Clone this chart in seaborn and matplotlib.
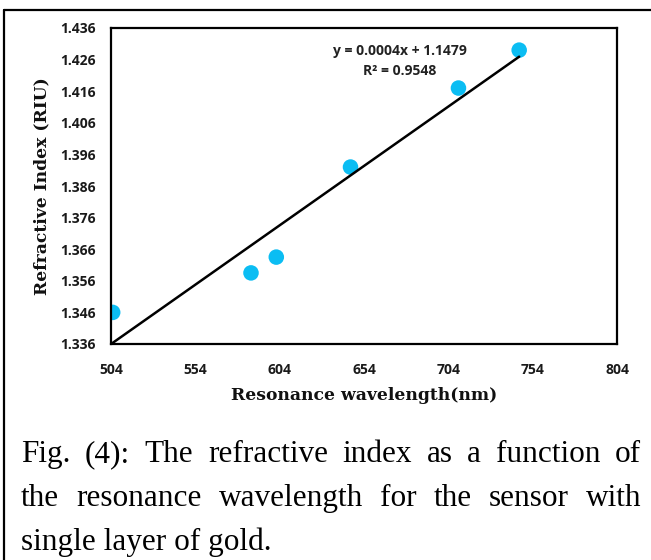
import numpy as np
import pandas as pd
import matplotlib
matplotlib.use("Agg")
import matplotlib.pyplot as plt
import seaborn as sns
from matplotlib.lines import Line2D

# ---- data ----
wavelength = [505, 587, 602, 646, 710, 746]
ref_index = [1.346, 1.3585, 1.3635, 1.392, 1.417, 1.429]
x_ticks = [504, 554, 604, 654, 704, 754, 804]
y_ticks = [1.336, 1.346, 1.356, 1.366, 1.376, 1.386, 1.396, 1.406, 1.416, 1.426, 1.436]
equation = "y = 0.0004x + 1.1479"
r2_text = "R² = 0.9548"
x_label = "Resonance wavelength(nm)"
y_label = "Refractive Index (RIU)"
caption_lines = [
    "Fig. (4):  The refractive index as a function of",
    "the resonance wavelength for the sensor with",
    "single layer of gold.",
]

df = pd.DataFrame({"wl": wavelength, "n": ref_index})

sns.set_theme(style="white")
plt.rcParams["font.family"] = ["DejaVu Sans"]

W, H = 651, 560
fig = plt.figure(figsize=(W / 100, H / 100), dpi=100)
ax_l, ax_r, ax_t, ax_b = 111, 617, 28, 344
ax = fig.add_axes([ax_l / W, 1 - ax_b / H, (ax_r - ax_l) / W, (ax_b - ax_t) / H])

sns.regplot(data=df, x="wl", y="n", ax=ax, ci=None, truncate=True,
            scatter_kws=dict(s=125, color="#0BBDF3", alpha=1, edgecolor="none", zorder=2),
            line_kws=dict(color="black", lw=1.8, zorder=3))

ax.set_xlim(504, 804)
ax.set_ylim(1.336, 1.436)
ax.set_xticks(x_ticks)
ax.set_yticks(y_ticks)
tick_kw = dict(fontfamily="Open Sans", fontweight="bold", fontsize=10, color="#1a1a1a")
ax.set_xticklabels([str(v) for v in x_ticks], **tick_kw)
ax.set_yticklabels([f"{v:.3f}" for v in y_ticks], **tick_kw)
ax.tick_params(axis="y", length=0, pad=11)
ax.tick_params(axis="x", length=0, pad=14)
for s in ax.spines.values():
    s.set_color("black")
    s.set_linewidth(1.6)

lab_kw = dict(fontfamily="DejaVu Serif", fontweight="bold", fontsize=12.3, color="#111111")
ax.set_xlabel(x_label, labelpad=7, **lab_kw)
ax.set_ylabel(y_label, labelpad=7, **lab_kw)

eq_kw = dict(transform=ax.transAxes, ha="center", va="center",
             fontfamily="Open Sans", fontweight="bold", fontsize=10, color="#222222")
ax.text(0.571, 0.927, equation, **eq_kw)
ax.text(0.571, 0.864, r2_text, **eq_kw)

# outer frame lines
fig.add_artist(Line2D([4 / W, 4 / W], [0, 1 - 10 / H], transform=fig.transFigure, color="black", lw=1.6))
fig.add_artist(Line2D([4 / W, 1], [1 - 10 / H, 1 - 10 / H], transform=fig.transFigure, color="black", lw=1.6))

# caption (justified)
fig.canvas.draw()
renderer = fig.canvas.get_renderer()
left_px, right_px = 21, 641
baselines = [462, 506, 550]
cap_kw = dict(fontfamily="Liberation Serif", fontsize=22.5, color="black", va="baseline", ha="left")
for i, line in enumerate(caption_lines):
    y = 1 - baselines[i] / H
    if i == len(caption_lines) - 1:
        fig.text(left_px / W, y, line, **cap_kw)
        continue
    words = line.split()
    texts = [fig.text(0, y, w, **cap_kw) for w in words]
    widths = [t.get_window_extent(renderer).width for t in texts]
    gap = (right_px - left_px - sum(widths)) / (len(words) - 1)
    x = left_px
    for t, w in zip(texts, widths):
        t.set_x(x / W)
        x += w + gap

fig.savefig("out.png", dpi=100)
